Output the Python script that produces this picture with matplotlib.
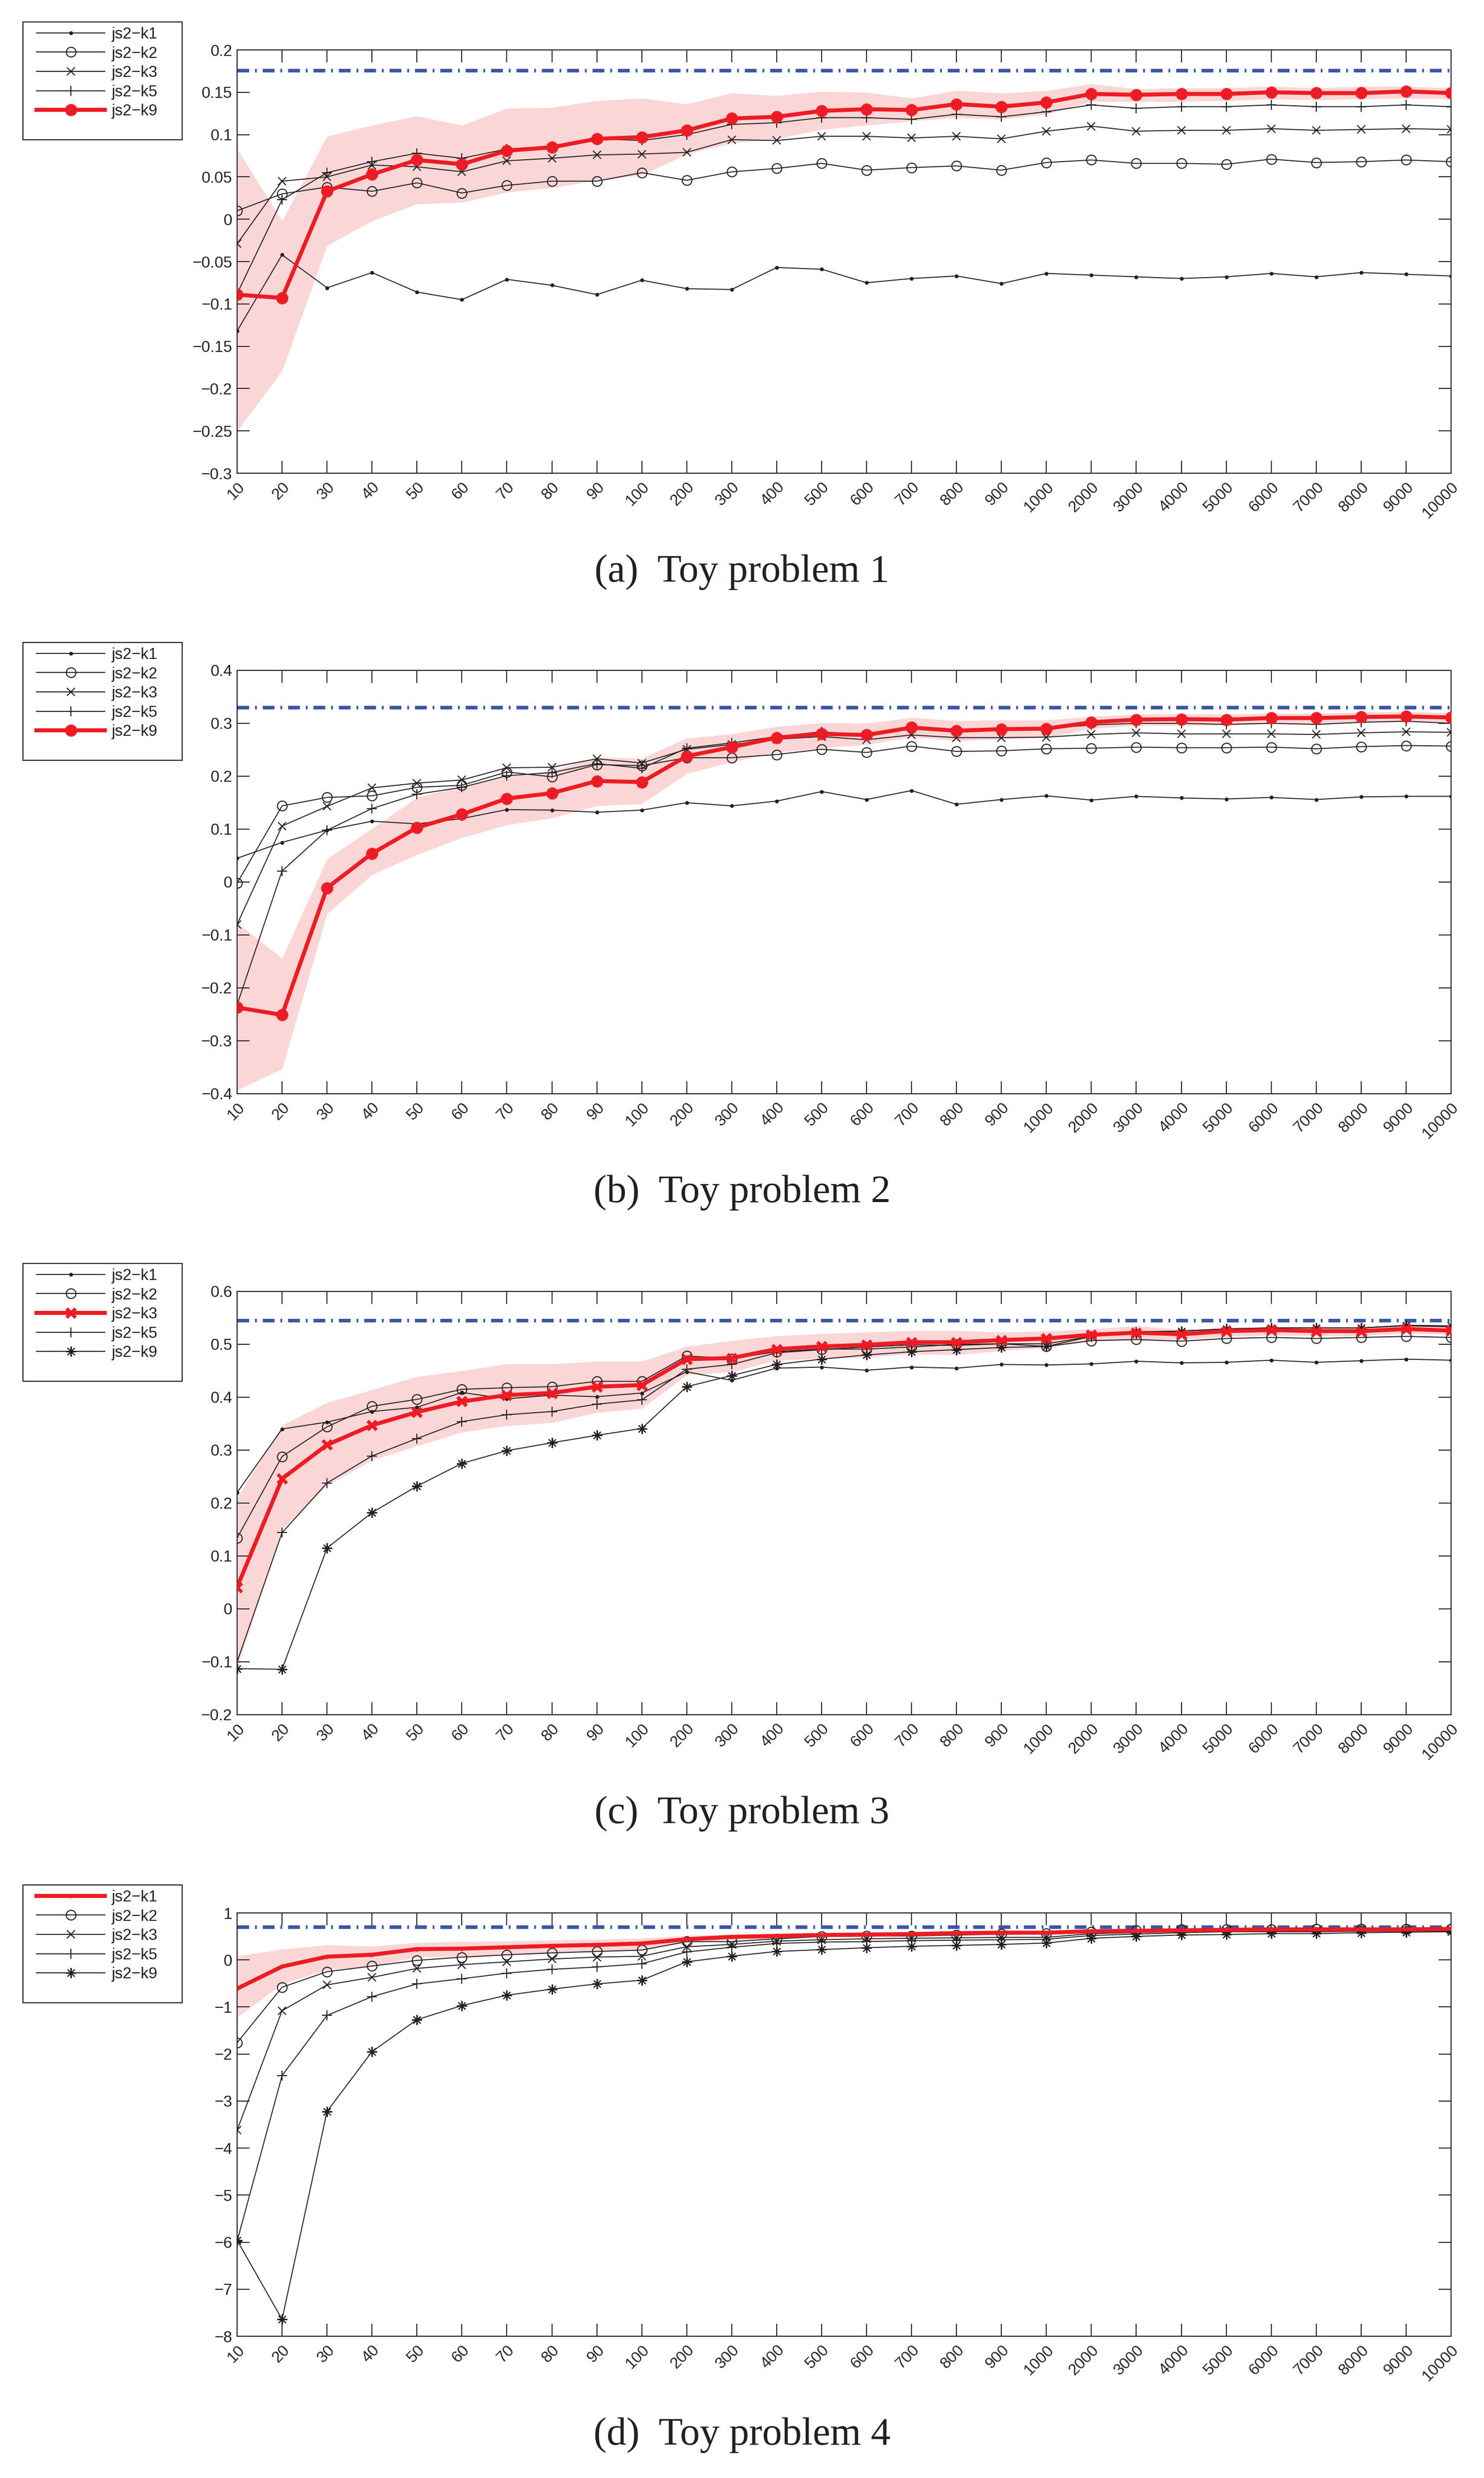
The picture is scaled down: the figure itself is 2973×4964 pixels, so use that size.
import matplotlib
matplotlib.use('Agg')
import matplotlib.pyplot as plt
from matplotlib.patches import Rectangle
import numpy as np

plt.rcParams['lines.scale_dashes'] = False
plt.rcParams['axes.unicode_minus'] = True
plt.rcParams['font.family'] = ['Liberation Sans', 'DejaVu Sans']

# ---------------- data ----------------
n_labels = ['10', '20', '30', '40', '50', '60', '70', '80', '90', '100',
            '200', '300', '400', '500', '600', '700', '800', '900', '1000',
            '2000', '3000', '4000', '5000', '6000', '7000', '8000', '9000', '10000']
series_names = ['js2\u2212k1', 'js2\u2212k2', 'js2\u2212k3', 'js2\u2212k5', 'js2\u2212k9']
captions = ['(a)  Toy problem 1', '(b)  Toy problem 2', '(c)  Toy problem 3', '(d)  Toy problem 4']

# Toy problem 1
p1_k1 = [-0.132, -0.042, -0.081, -0.063, -0.086, -0.095, -0.071, -0.078, -0.089, -0.072, -0.082, -0.083, -0.057, -0.059,
         -0.075, -0.070, -0.067, -0.076, -0.064, -0.066, -0.068, -0.070, -0.068, -0.064, -0.068, -0.063, -0.065, -0.067]
p1_k2 = [0.010, 0.030, 0.038, 0.033, 0.043, 0.031, 0.040, 0.045, 0.045, 0.055, 0.046, 0.056, 0.060, 0.066,
         0.058, 0.061, 0.063, 0.058, 0.067, 0.070, 0.066, 0.066, 0.065, 0.071, 0.067, 0.068, 0.070, 0.068]
p1_k3 = [-0.029, 0.045, 0.050, 0.064, 0.062, 0.056, 0.069, 0.072, 0.076, 0.077, 0.079, 0.094, 0.093, 0.098,
         0.098, 0.096, 0.098, 0.095, 0.104, 0.110, 0.104, 0.105, 0.105, 0.107, 0.105, 0.106, 0.107, 0.106]
p1_k5 = [-0.088, 0.023, 0.055, 0.068, 0.078, 0.072, 0.083, 0.086, 0.095, 0.093, 0.100, 0.112, 0.114, 0.120,
         0.120, 0.118, 0.124, 0.121, 0.127, 0.135, 0.131, 0.133, 0.133, 0.135, 0.133, 0.133, 0.135, 0.133]
p1_k9 = [-0.089, -0.093, 0.033, 0.053, 0.070, 0.065, 0.081, 0.085, 0.095, 0.097, 0.105, 0.119, 0.121, 0.128,
         0.130, 0.129, 0.136, 0.133, 0.138, 0.148, 0.147, 0.148, 0.148, 0.150, 0.149, 0.149, 0.151, 0.149]
p1_hi = [0.083, -0.002, 0.098, 0.111, 0.122, 0.111, 0.131, 0.132, 0.140, 0.143, 0.136, 0.149, 0.146, 0.151,
         0.150, 0.143, 0.152, 0.149, 0.152, 0.160, 0.154, 0.155, 0.155, 0.157, 0.155, 0.157, 0.157, 0.155]
p1_lo = [-0.250, -0.179, -0.031, -0.002, 0.018, 0.020, 0.032, 0.037, 0.046, 0.052, 0.077, 0.090, 0.095, 0.106,
         0.111, 0.116, 0.120, 0.118, 0.124, 0.139, 0.139, 0.139, 0.140, 0.142, 0.141, 0.142, 0.143, 0.142]
p1_ref = 0.176
p1_yticks = [-0.3, -0.25, -0.2, -0.15, -0.1, -0.05, 0, 0.05, 0.1, 0.15, 0.2]

# Toy problem 2
p2_k1 = [0.045, 0.075, 0.098, 0.115, 0.110, 0.120, 0.137, 0.136, 0.132, 0.136, 0.150, 0.144, 0.153, 0.171,
         0.156, 0.173, 0.147, 0.156, 0.163, 0.155, 0.162, 0.159, 0.157, 0.160, 0.156, 0.161, 0.162, 0.162]
p2_k2 = [-0.002, 0.144, 0.160, 0.163, 0.179, 0.183, 0.208, 0.199, 0.222, 0.220, 0.235, 0.235, 0.241, 0.251,
         0.245, 0.257, 0.247, 0.248, 0.252, 0.253, 0.255, 0.254, 0.254, 0.255, 0.252, 0.256, 0.258, 0.257]
p2_k3 = [-0.080, 0.106, 0.143, 0.178, 0.187, 0.193, 0.216, 0.217, 0.233, 0.225, 0.251, 0.260, 0.270, 0.275,
         0.269, 0.278, 0.273, 0.273, 0.274, 0.279, 0.282, 0.280, 0.280, 0.280, 0.279, 0.282, 0.284, 0.283]
p2_k5 = [-0.232, 0.021, 0.098, 0.139, 0.166, 0.179, 0.201, 0.207, 0.224, 0.215, 0.253, 0.263, 0.275, 0.284,
         0.278, 0.292, 0.286, 0.288, 0.290, 0.297, 0.300, 0.300, 0.298, 0.300, 0.298, 0.302, 0.304, 0.300]
p2_k9 = [-0.237, -0.251, -0.011, 0.054, 0.103, 0.128, 0.158, 0.168, 0.191, 0.189, 0.238, 0.255, 0.273, 0.280,
         0.278, 0.292, 0.286, 0.289, 0.290, 0.302, 0.307, 0.308, 0.307, 0.310, 0.310, 0.312, 0.313, 0.311]
p2_hi = [-0.077, -0.144, 0.044, 0.101, 0.160, 0.181, 0.199, 0.210, 0.236, 0.234, 0.272, 0.280, 0.294, 0.301,
         0.300, 0.311, 0.305, 0.306, 0.306, 0.313, 0.317, 0.318, 0.317, 0.319, 0.319, 0.321, 0.322, 0.320]
p2_lo = [-0.393, -0.353, -0.060, 0.014, 0.052, 0.084, 0.108, 0.121, 0.144, 0.148, 0.205, 0.227, 0.245, 0.253,
         0.260, 0.274, 0.267, 0.270, 0.273, 0.290, 0.296, 0.296, 0.296, 0.300, 0.298, 0.302, 0.303, 0.301]
p2_ref = 0.330
p2_yticks = [-0.4, -0.3, -0.2, -0.1, 0, 0.1, 0.2, 0.3, 0.4]

# Toy problem 3
p3_k1 = [0.220, 0.340, 0.353, 0.373, 0.381, 0.409, 0.397, 0.404, 0.401, 0.408, 0.448, 0.432, 0.455, 0.457,
         0.451, 0.457, 0.455, 0.462, 0.461, 0.463, 0.468, 0.465, 0.466, 0.470, 0.466, 0.469, 0.472, 0.470]
p3_k2 = [0.134, 0.288, 0.344, 0.383, 0.396, 0.415, 0.418, 0.420, 0.430, 0.430, 0.478, 0.473, 0.486, 0.491,
         0.491, 0.495, 0.500, 0.501, 0.496, 0.507, 0.509, 0.506, 0.511, 0.513, 0.511, 0.513, 0.515, 0.513]
p3_k3 = [0.041, 0.246, 0.310, 0.347, 0.372, 0.392, 0.404, 0.408, 0.420, 0.423, 0.472, 0.474, 0.491, 0.496,
         0.499, 0.504, 0.504, 0.508, 0.511, 0.518, 0.522, 0.519, 0.525, 0.527, 0.525, 0.525, 0.529, 0.526]
p3_k5 = [-0.100, 0.144, 0.238, 0.289, 0.322, 0.354, 0.367, 0.373, 0.387, 0.395, 0.453, 0.462, 0.484, 0.490,
         0.495, 0.499, 0.498, 0.501, 0.501, 0.515, 0.524, 0.525, 0.529, 0.531, 0.531, 0.531, 0.535, 0.533]
p3_k9 = [-0.113, -0.114, 0.115, 0.182, 0.232, 0.275, 0.299, 0.314, 0.328, 0.341, 0.420, 0.441, 0.462, 0.472,
         0.480, 0.486, 0.490, 0.494, 0.496, 0.515, 0.521, 0.525, 0.529, 0.531, 0.531, 0.531, 0.536, 0.535]
p3_hi = [0.209, 0.347, 0.390, 0.414, 0.439, 0.450, 0.463, 0.463, 0.468, 0.468, 0.496, 0.507, 0.516, 0.520,
         0.523, 0.526, 0.526, 0.523, 0.525, 0.529, 0.535, 0.528, 0.532, 0.533, 0.533, 0.532, 0.535, 0.534]
p3_lo = [-0.112, 0.151, 0.233, 0.281, 0.308, 0.334, 0.346, 0.352, 0.371, 0.379, 0.442, 0.448, 0.470, 0.473,
         0.475, 0.482, 0.480, 0.488, 0.493, 0.506, 0.509, 0.509, 0.515, 0.517, 0.516, 0.516, 0.521, 0.519]
p3_ref = 0.545
p3_yticks = [-0.2, -0.1, 0, 0.1, 0.2, 0.3, 0.4, 0.5, 0.6]

# Toy problem 4
p4_k1 = [-0.61, -0.14, 0.07, 0.11, 0.23, 0.24, 0.27, 0.30, 0.32, 0.35, 0.44, 0.49, 0.51, 0.53,
         0.54, 0.55, 0.57, 0.58, 0.58, 0.61, 0.62, 0.63, 0.64, 0.65, 0.65, 0.65, 0.65, 0.66]
p4_k2 = [-1.76, -0.58, -0.25, -0.13, -0.01, 0.06, 0.11, 0.15, 0.18, 0.21, 0.39, 0.39, 0.45, 0.50,
         0.51, 0.51, 0.53, 0.55, 0.56, 0.60, 0.63, 0.65, 0.65, 0.65, 0.66, 0.66, 0.66, 0.66]
p4_k3 = [-3.62, -1.08, -0.53, -0.37, -0.18, -0.10, -0.04, 0.02, 0.06, 0.08, 0.28, 0.33, 0.40, 0.43,
         0.45, 0.46, 0.47, 0.48, 0.48, 0.56, 0.58, 0.61, 0.62, 0.63, 0.63, 0.64, 0.64, 0.64]
p4_k5 = [-5.98, -2.46, -1.18, -0.78, -0.51, -0.40, -0.28, -0.20, -0.15, -0.08, 0.17, 0.27, 0.35, 0.38,
         0.39, 0.41, 0.42, 0.43, 0.44, 0.52, 0.55, 0.58, 0.60, 0.60, 0.60, 0.61, 0.61, 0.62]
p4_k9 = [-5.96, -7.64, -3.22, -1.95, -1.27, -0.97, -0.75, -0.62, -0.51, -0.43, -0.04, 0.08, 0.18, 0.22,
         0.26, 0.29, 0.31, 0.33, 0.36, 0.46, 0.50, 0.53, 0.54, 0.56, 0.56, 0.58, 0.59, 0.60]
p4_hi = [0.08, 0.23, 0.32, 0.29, 0.37, 0.39, 0.40, 0.42, 0.44, 0.46, 0.52, 0.55, 0.57, 0.58,
         0.59, 0.60, 0.61, 0.62, 0.62, 0.65, 0.66, 0.67, 0.68, 0.69, 0.69, 0.69, 0.69, 0.70]
p4_lo = [-1.22, -0.51, -0.21, -0.13, 0.06, 0.08, 0.12, 0.16, 0.19, 0.23, 0.37, 0.43, 0.45, 0.48,
         0.49, 0.50, 0.52, 0.53, 0.54, 0.57, 0.58, 0.59, 0.60, 0.61, 0.61, 0.61, 0.61, 0.62]
p4_ref = 0.70
p4_yticks = [-8, -7, -6, -5, -4, -3, -2, -1, 0, 1]

# which series is highlighted (red with band) in each panel
highlight = [4, 4, 2, 0]

# ---------------- styling ----------------
W, H = 2973, 4964
DPI = 100
DARK = '#231f20'
RED = '#ed1c24'
BLUE = '#3b56a6'
PINK = '#fbd6d7'
TICKFONT = 22.7

fig = plt.figure(figsize=(W / DPI, H / DPI), dpi=DPI)

panels = [
    ([p1_k1, p1_k2, p1_k3, p1_k5, p1_k9], p1_lo, p1_hi, p1_ref, p1_yticks),
    ([p2_k1, p2_k2, p2_k3, p2_k5, p2_k9], p2_lo, p2_hi, p2_ref, p2_yticks),
    ([p3_k1, p3_k2, p3_k3, p3_k5, p3_k9], p3_lo, p3_hi, p3_ref, p3_yticks),
    ([p4_k1, p4_k2, p4_k3, p4_k5, p4_k9], p4_lo, p4_hi, p4_ref, p4_yticks),
]

ASTER = (8, 2, 0)
black_styles = [
    dict(marker='o', ms=4.5, mfc=DARK, mec=DARK, mew=1.0),
    dict(marker='o', ms=14, mfc='none', mec=DARK, mew=1.5),
    dict(marker='x', ms=11, mec=DARK, mew=1.5),
    dict(marker='+', ms=14.5, mec=DARK, mew=1.5),
    dict(marker=ASTER, ms=14.4, mec=DARK, mew=1.5),
]
red_styles = [
    dict(marker='o', ms=5, mfc=RED, mec=RED, mew=1.0),
    dict(marker='o', ms=14, mfc='none', mec=RED, mew=4),
    dict(marker='x', ms=13.5, mec=RED, mew=5),
    dict(marker='+', ms=15, mec=RED, mew=5),
    dict(marker=ASTER, ms=17, mec=RED, mew=5.5),
]

ax_left, ax_right = 475, 2907
ax_tops = [100, 1343, 2587, 3832]
ax_h = 848
x = np.arange(len(n_labels))

for pi, (series, lo, hi, ref, yticks) in enumerate(panels):
    top = ax_tops[pi]
    ax = fig.add_axes([ax_left / W, 1 - (top + ax_h) / H, (ax_right - ax_left) / W, ax_h / H])
    hl = highlight[pi]

    ax.fill_between(x, lo, hi, color=PINK, lw=0, zorder=1)
    ax.plot(x, [ref] * len(x), color=BLUE, lw=5.2, linestyle=(0, (17, 8.5, 2.6, 8.5)),
            solid_capstyle='butt', dash_capstyle='butt', zorder=2)

    handles = []
    for si, ys in enumerate(series):
        if si == hl:
            st = red_styles[si]
            ln, = ax.plot(x, ys, color=RED, lw=5.8, zorder=5, **st)
        else:
            st = black_styles[si]
            ln, = ax.plot(x, ys, color=DARK, lw=1.4, zorder=3, **st)
        handles.append(ln)

    ax.set_xlim(0, len(x) - 1)
    ax.set_ylim(yticks[0], yticks[-1])
    ax.set_yticks(yticks)
    ax.set_yticklabels([('%g' % v).replace('-', '\u2212') for v in yticks])
    ax.set_xticks(x)
    ax.set_xticklabels(n_labels, rotation=45, ha='right', va='top', rotation_mode='anchor')

    ax.tick_params(axis='both', which='both', direction='in', length=18, width=1.4,
                   top=True, right=True, colors=DARK, labelsize=TICKFONT)
    ax.tick_params(axis='y', pad=7)
    ax.tick_params(axis='x', pad=9)
    for sp in ax.spines.values():
        sp.set_color(DARK)
        sp.set_linewidth(1.5)
    ax.set_facecolor('white')

    # legend (frame drawn separately for exact box size)
    leg_top = top - 56
    leg_h = 236
    ax.legend(handles, series_names, loc='upper left',
              bbox_to_anchor=(73 / W, 1 - (leg_top + 10) / H), bbox_transform=fig.transFigure,
              frameon=False, borderpad=0, borderaxespad=0, handlelength=4.35,
              handletextpad=0.44, labelspacing=0.27, numpoints=1,
              prop=dict(family='Liberation Sans', size=TICKFONT))
    for t in ax.get_legend().get_texts():
        t.set_color(DARK)
    fig.add_artist(Rectangle((46 / W, 1 - (leg_top + leg_h) / H), (365 - 46) / W, leg_h / H,
                             transform=fig.transFigure, fill=False, ec=DARK, lw=1.5))

    fig.text(0.5, 1 - (top + ax_h + 198) / H, captions[pi], ha='center', va='center',
             family=['Liberation Serif', 'DejaVu Serif'], size=57, color=DARK)

fig.savefig('out.png', dpi=DPI, facecolor='white')
